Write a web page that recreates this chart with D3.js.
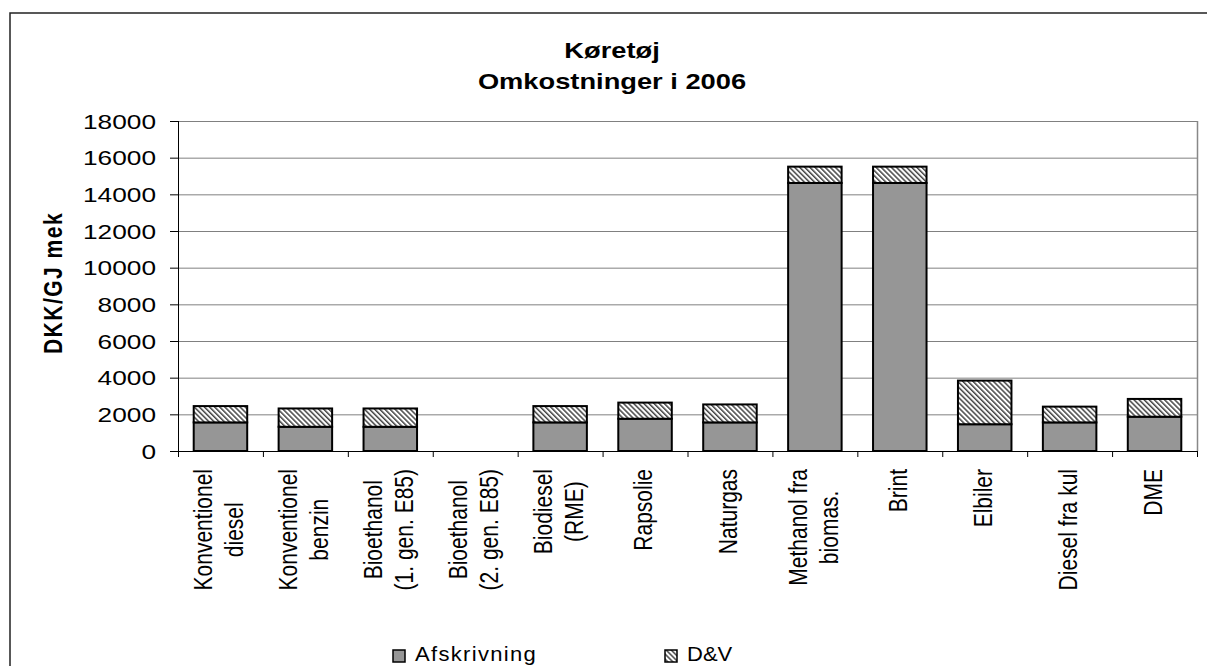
<!DOCTYPE html>
<html>
<head>
<meta charset="utf-8">
<script src="https://cdn.jsdelivr.net/npm/d3@7"></script>
<style>
  body { margin: 0; background: #fff; }
  svg { display: block; font-family: Arial, "Liberation Sans", sans-serif; }
</style>
</head>
<body>
<svg id="chart" width="1207" height="666"></svg>
<script>
const categories = ["Konventionel\ndiesel", "Konventionel\nbenzin", "Bioethanol\n(1. gen. E85)", "Bioethanol\n(2. gen. E85)",
  "Biodiesel\n(RME)", "Rapsolie", "Naturgas", "Methanol fra\nbiomas.", "Brint", "Elbiler", "Diesel fra kul", "DME"];
const afskrivning = [1560, 1320, 1320, 0, 1560, 1760, 1560, 14620, 14620, 1460, 1560, 1870];
const dv = [890, 1000, 1000, 0, 890, 880, 980, 890, 890, 2380, 860, 970];
const yTicks = [0, 2000, 4000, 6000, 8000, 10000, 12000, 14000, 16000, 18000];
const titleLines = ["Køretøj", "Omkostninger i 2006"];
const yTitle = "DKK/GJ mek";
const seriesNames = ["Afskrivning", "D&V"];

const margin = {top: 121, right: 9, bottom: 215, left: 178};
const width = 1207, height = 666;
const stretch = 1.25; // text in the reference is drawn wide

const svg = d3.select("#chart");

const defs = svg.append("defs");
defs.append("pattern")
  .attr("id", "hatch")
  .attr("patternUnits", "userSpaceOnUse")
  .attr("width", 3.6).attr("height", 3.6)
  .attr("patternTransform", "rotate(-45)")
  .call(p => p.append("rect").attr("width", 3.6).attr("height", 3.6).attr("fill", "#fff"))
  .call(p => p.append("rect").attr("width", 1.5).attr("height", 3.6).attr("fill", "#444"));

// outer chart border
svg.append("rect")
  .attr("x", 10).attr("y", 13)
  .attr("width", 1230).attr("height", 700)
  .attr("fill", "none").attr("stroke", "#222").attr("stroke-width", 1.5);

const x = d3.scaleBand()
  .domain(d3.range(categories.length))
  .range([margin.left, width - margin.right - 1])
  .paddingInner(0.37)
  .paddingOuter(0.185);

const y = d3.scaleLinear()
  .domain([0, 18000])
  .range([height - margin.bottom, margin.top]);

// gridlines
svg.append("g")
  .selectAll("line")
  .data(yTicks.filter(d => d > 0))
  .enter().append("line")
  .attr("x1", margin.left).attr("x2", x.range()[1])
  .attr("y1", d => y(d) + 0.5).attr("y2", d => y(d) + 0.5)
  .attr("stroke", "#808080").attr("stroke-width", 1);

// plot area right border
svg.append("line")
  .attr("x1", x.range()[1] + 0.5).attr("x2", x.range()[1] + 0.5)
  .attr("y1", y(18000)).attr("y2", y(0))
  .attr("stroke", "#888").attr("stroke-width", 1.5);

// stacked bars
const stack = d3.stack().keys([0, 1])(categories.map((c, i) => [afskrivning[i], dv[i]]));
const fills = ["#969696", "url(#hatch)"];

svg.append("g")
  .selectAll("g")
  .data(stack)
  .enter().append("g")
  .attr("fill", (d, i) => fills[i])
  .selectAll("rect")
  .data(d => d.map((v, i) => ({v, i})).filter(o => o.v[1] > o.v[0]))
  .enter().append("rect")
  .attr("x", o => x(o.i))
  .attr("width", x.bandwidth())
  .attr("y", o => y(o.v[1]))
  .attr("height", o => y(o.v[0]) - y(o.v[1]))
  .attr("stroke", "#000")
  .attr("stroke-width", 2);

// y axis
const yAxis = svg.append("g");
yAxis.append("line")
  .attr("x1", margin.left + 0.5).attr("x2", margin.left + 0.5)
  .attr("y1", y(18000)).attr("y2", y(0))
  .attr("stroke", "#000");
yAxis.selectAll(".tick")
  .data(yTicks)
  .enter().append("line")
  .attr("x1", margin.left - 8).attr("x2", margin.left)
  .attr("y1", d => y(d) + 0.5).attr("y2", d => y(d) + 0.5)
  .attr("stroke", "#000");
yAxis.selectAll("text")
  .data(yTicks)
  .enter().append("text")
  .attr("transform", d => `translate(156,${y(d)}) scale(${stretch},1)`)
  .attr("text-anchor", "end")
  .attr("dy", "0.36em")
  .attr("font-size", 21)
  .attr("fill", "#000")
  .text(d => d);

// x axis
const xAxis = svg.append("g");
xAxis.append("line")
  .attr("x1", margin.left).attr("x2", x.range()[1])
  .attr("y1", y(0) + 0.5).attr("y2", y(0) + 0.5)
  .attr("stroke", "#000");
xAxis.selectAll(".tick")
  .data(d3.range(categories.length + 1))
  .enter().append("line")
  .attr("x1", i => margin.left + i * x.step() + 0.5)
  .attr("x2", i => margin.left + i * x.step() + 0.5)
  .attr("y1", y(0)).attr("y2", y(0) + 6)
  .attr("stroke", "#000");

const labels = xAxis.selectAll(".label")
  .data(categories)
  .enter().append("g");

labels.each(function (d, i) {
  const lines = d.split("\n");
  const g = d3.select(this);
  const texts = g.selectAll("text")
    .data(lines)
    .enter().append("text")
    .attr("text-anchor", "middle")
    .attr("dominant-baseline", "central")
    .attr("font-size", 21)
    .attr("fill", "#000")
    .attr("y", (l, k) => (k - (lines.length - 1) / 2) * 25)
    .text(l => l);
  const longest = d3.max(texts.nodes(), n => n.getComputedTextLength());
  const cx = x(i) + x.bandwidth() / 2 - 2;
  g.attr("transform", `translate(${cx},${y(0) + 18 + longest / 2}) scale(${stretch},1) rotate(-90)`);
});

// y title
svg.append("text")
  .attr("transform", `translate(53,283) scale(${stretch},1) rotate(-90)`)
  .attr("text-anchor", "middle")
  .attr("dominant-baseline", "central")
  .attr("font-size", 21)
  .attr("font-weight", "bold")
  .attr("letter-spacing", 1.5)
  .text(yTitle);

// chart title
svg.append("g")
  .selectAll("text")
  .data(titleLines)
  .enter().append("text")
  .attr("transform", (d, i) => `translate(612,${58 + i * 31}) scale(1.24,1)`)
  .attr("text-anchor", "middle")
  .attr("font-size", 22)
  .attr("font-weight", "bold")
  .text(d => d);

// legend
const legendX = [393, 665];
const legend = svg.append("g")
  .selectAll("g")
  .data(seriesNames)
  .enter().append("g")
  .attr("transform", (d, i) => `translate(${legendX[i]},650)`);

legend.append("rect")
  .attr("width", 12).attr("height", 12)
  .attr("fill", (d, i) => fills[i])
  .attr("stroke", "#000").attr("stroke-width", 1.5);

legend.append("text")
  .attr("transform", "translate(22,11) scale(1.1,1)")
  .attr("font-size", 20)
  .attr("letter-spacing", (d, i) => i === 0 ? 1.2 : 0)
  .text(d => d);
</script>
</body>
</html>
